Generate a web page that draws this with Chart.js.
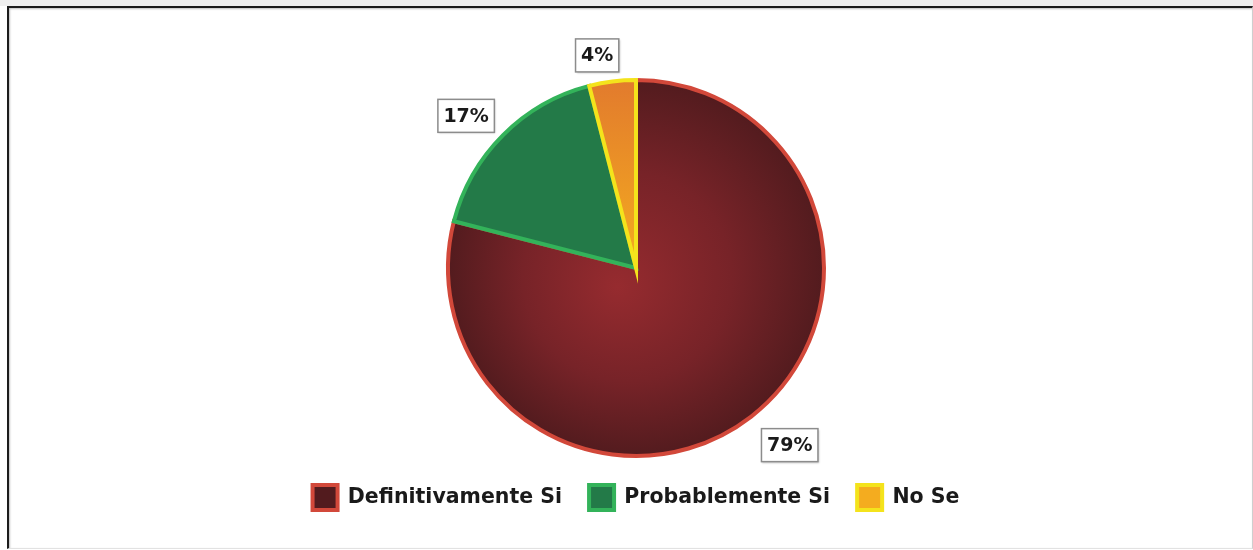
<!DOCTYPE html>
<html>
<head>
<meta charset="utf-8">
<script src="https://cdn.jsdelivr.net/npm/chart.js@4.4.1/dist/chart.umd.min.js"></script>
<style>
  html, body { margin: 0; padding: 0; background: #fff; }
  #wrap { position: relative; width: 1253px; height: 550px; overflow: hidden; }
  #strip { position: absolute; left: 0; top: 0; width: 1253px; height: 6px; background: #efefef; }
  #frame { position: absolute; left: 7px; top: 6px; width: 1243px; height: 540px;
           border-left: 2px solid #1c1c1c; border-top: 2px solid #1c1c1c;
           border-right: 1px solid #cfcfcf; border-bottom: 1px solid #e2e2e2;
           box-shadow: inset 1px 1px 2px rgba(0,0,0,0.25); }
  canvas { position: absolute; left: 0; top: 0; }
</style>
</head>
<body>
<div id="wrap">
  <div id="strip"></div>
  <div id="frame"></div>
  <canvas id="chart" width="1253" height="550"></canvas>
</div>
<script>
const categories = ['Definitivamente Si', 'Probablemente Si', 'No Se'];
const values = [79, 17, 4];
const borderColors = ['#d2483a', '#33b35a', '#f4e31c'];

// fills: red and orange slices have gradients, green is flat
function sliceFill(context) {
    const chart = context.chart;
    const area = chart.chartArea;
    const i = context.dataIndex;
    if (!area) return ['#7a2327', '#237a48', '#ee9a24'][i];
    const ctx = chart.ctx;
    const cx = (area.left + area.right) / 2;
    const cy = (area.top + area.bottom) / 2;
    const r = Math.min(area.right - area.left, area.bottom - area.top) / 2;
    if (i === 0) {
        const g = ctx.createRadialGradient(cx - r * 0.1, cy + r * 0.1, 0, cx, cy, r);
        g.addColorStop(0, '#962b2f');
        g.addColorStop(0.55, '#772328');
        g.addColorStop(1, '#521b1e');
        return g;
    }
    if (i === 2) {
        const g = ctx.createLinearGradient(0, cy - r, 0, cy);
        g.addColorStop(0, '#e27a2d');
        g.addColorStop(1, '#f4ac1f');
        return g;
    }
    return '#237a48';
}

// percent labels in white boxes, just outside each slice
const boxLabels = {
    id: 'boxLabels',
    afterDatasetsDraw(chart) {
        const ctx = chart.ctx;
        const meta = chart.getDatasetMeta(0);
        const total = values.reduce((a, b) => a + b, 0);
        ctx.save();
        ctx.font = 'bold 19px "DejaVu Sans"';
        ctx.textAlign = 'center';
        ctx.textBaseline = 'middle';
        meta.data.forEach((arc, i) => {
            const p = arc.getProps(['x', 'y', 'startAngle', 'endAngle', 'outerRadius'], true);
            const mid = (p.startAngle + p.endAngle) / 2 - 0.055;
            const dx = Math.cos(mid), dy = Math.sin(mid);
            const text = Math.round(values[i] / total * 100) + '%';
            const w = ctx.measureText(text).width + 11;
            const h = 33;
            const proj = Math.abs(dx) * w / 2 + Math.abs(dy) * h / 2;
            const d = p.outerRadius + 2 + proj + 6 + Math.max(0, dy) * 10;
            const bx = p.x + dx * d, by = p.y + dy * d;
            ctx.shadowColor = 'rgba(0,0,0,0.25)';
            ctx.shadowBlur = 2;
            ctx.shadowOffsetX = 1;
            ctx.shadowOffsetY = 1;
            ctx.fillStyle = '#ffffff';
            ctx.fillRect(bx - w / 2, by - h / 2, w, h);
            ctx.shadowColor = 'transparent';
            ctx.strokeStyle = '#8c8c8c';
            ctx.lineWidth = 1.5;
            ctx.strokeRect(bx - w / 2, by - h / 2, w, h);
            ctx.fillStyle = '#1a1a1a';
            ctx.fillText(text, bx, by + 1);
        });
        ctx.restore();
    }
};

new Chart(document.getElementById('chart'), {
    type: 'pie',
    data: {
        labels: categories,
        datasets: [{
            data: values,
            backgroundColor: sliceFill,
            borderColor: borderColors,
            borderWidth: 4,
            borderJoinStyle: 'miter'
        }]
    },
    options: {
        responsive: false,
        animation: false,
        events: [],
        layout: { padding: { top: 78, bottom: 30, left: 19, right: 0 } },
        plugins: {
            tooltip: { enabled: false },
            legend: {
                position: 'bottom',
                labels: {
                    boxWidth: 25,
                    boxHeight: 25,
                    padding: 27,
                    color: '#1a1a1a',
                    font: { family: 'DejaVu Sans', size: 20.5, weight: 'bold' }
                }
            }
        }
    },
    plugins: [boxLabels]
});
</script>
</body>
</html>
